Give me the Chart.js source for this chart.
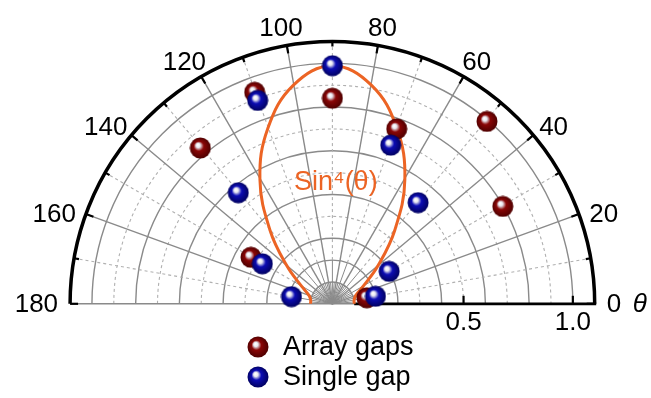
<!DOCTYPE html>
<html>
<head>
<meta charset="utf-8">
<script src="https://cdn.jsdelivr.net/npm/chart.js@4"></script>
<style>
  html, body { margin: 0; padding: 0; background: #fff; }
  #chart { display: block; }
</style>
</head>
<body>
<canvas id="chart" width="651" height="398"></canvas>
<script>
// ---- data (angle in degrees, radius) ----
const arrayTheta = [10, 30, 50, 70, 90, 110, 130, 150];
const arrayR = [0.06, 0.80, 1.00, 0.76, 0.85, 0.94, 0.84, 0.33];

const singleTheta = [10, 30, 50, 70, 90, 110, 130, 150, 170];
const singleR = [0.10, 0.20, 0.51, 0.68, 1.00, 0.90, 0.57, 0.27, 0.09];

// Sin^4(theta) guide curve, read every 10 degrees
const curveTheta = [0, 10, 20, 30, 40, 50, 60, 70, 80, 90, 100, 110, 120, 130, 140, 150, 160, 170, 180];
const curveR = [0, 0.001, 0.014, 0.063, 0.171, 0.344, 0.563, 0.763, 0.926, 1.0,
                0.926, 0.763, 0.563, 0.344, 0.171, 0.063, 0.014, 0.001, 0];

const angleTicks = [0, 20, 40, 60, 80, 100, 120, 140, 160, 180];
const radialTicks = [0.5, 1.0];
const solidCircles = [0, 0.1, 0.2, 0.4, 0.6, 0.8, 1.0];
const dashedCircles = [0.3, 0.5, 0.7, 0.9];

const R_MIN = -0.1, R_MAX = 1.1;
const ORANGE = "#ec6424";
const FONT = "'Liberation Sans', Arial, sans-serif";

// polar -> cartesian, radius measured from R_MIN
function toXY(r, deg) {
    const u = r - R_MIN, a = deg * Math.PI / 180;
    return { x: u * Math.cos(a), y: u * Math.sin(a) };
}

// shaded ball marker
function makeBall(base, dark) {
    const s = 22, c = document.createElement("canvas");
    c.width = s; c.height = s;
    const g = c.getContext("2d");
    const grad = g.createRadialGradient(s * 0.38, s * 0.36, 0.5, s / 2, s / 2, s / 2);
    grad.addColorStop(0, "#ffffff");
    grad.addColorStop(0.16, "#e8e8f0");
    grad.addColorStop(0.42, base);
    grad.addColorStop(1, dark);
    g.fillStyle = grad;
    g.beginPath();
    g.arc(s / 2, s / 2, s / 2 - 0.5, 0, Math.PI * 2);
    g.fill();
    return c;
}
const redBall = makeBall("#8a0606", "#4a0000");
const blueBall = makeBall("#0c0cb4", "#00005a");

const polarGrid = {
    id: "polarGrid",
    beforeDatasetsDraw(chart) {
        const { ctx, scales: { x, y } } = chart;
        const cx = x.getPixelForValue(0), cy = y.getPixelForValue(0);
        const k = x.getPixelForValue(1) - cx;
        const rad = r => (r - R_MIN) * k;
        const pt = (r, deg) => {
            const a = deg * Math.PI / 180;
            return [cx + rad(r) * Math.cos(a), cy - rad(r) * Math.sin(a)];
        };
        ctx.save();
        ctx.lineCap = "butt";

        // circles
        ctx.strokeStyle = "#8a8a8a";
        ctx.lineWidth = 1.4;
        solidCircles.forEach(r => {
            ctx.beginPath();
            ctx.arc(cx, cy, rad(r), Math.PI, 2 * Math.PI);
            ctx.stroke();
        });
        ctx.strokeStyle = "#b0b0b0";
        ctx.lineWidth = 1.1;
        ctx.setLineDash([3, 3]);
        dashedCircles.forEach(r => {
            ctx.beginPath();
            ctx.arc(cx, cy, rad(r), Math.PI, 2 * Math.PI);
            ctx.stroke();
        });

        // dashed spokes at odd tens
        for (let d = 10; d < 180; d += 20) {
            const p0 = pt(0.1, d), p1 = pt(R_MAX, d);
            ctx.beginPath();
            ctx.moveTo(p0[0], p0[1]);
            ctx.lineTo(p1[0], p1[1]);
            ctx.stroke();
        }
        ctx.setLineDash([]);

        // solid spokes
        ctx.strokeStyle = "#8a8a8a";
        ctx.lineWidth = 1.4;
        for (let d = 0; d <= 180; d += 20) {
            const p1 = pt(R_MAX, d);
            ctx.beginPath();
            ctx.moveTo(cx, cy);
            ctx.lineTo(p1[0], p1[1]);
            ctx.stroke();
        }
        // dense fan near the origin
        ctx.lineWidth = 1;
        for (let d = 5; d < 180; d += 5) {
            if (d % 20 === 0) continue;
            const p1 = pt(d % 10 === 0 ? 0.1 : 0, d);
            ctx.beginPath();
            ctx.moveTo(cx, cy);
            ctx.lineTo(p1[0], p1[1]);
            ctx.stroke();
        }

        // outer arc
        ctx.strokeStyle = "#000";
        ctx.lineWidth = 3.5;
        ctx.beginPath();
        ctx.arc(cx, cy, rad(R_MAX), Math.PI, 2 * Math.PI);
        ctx.stroke();

        // angular ticks
        ctx.lineWidth = 2.2;
        for (let d = 0; d <= 180; d += 10) {
            const len = d % 20 === 0 ? 8 : 5;
            const a = d * Math.PI / 180, R = rad(R_MAX);
            ctx.beginPath();
            ctx.moveTo(cx + R * Math.cos(a), cy - R * Math.sin(a));
            ctx.lineTo(cx + (R - len) * Math.cos(a), cy - (R - len) * Math.sin(a));
            ctx.stroke();
        }

        // radial axis along 0 deg
        ctx.lineWidth = 2.8;
        ctx.beginPath();
        ctx.moveTo(pt(0, 0)[0], cy);
        ctx.lineTo(pt(R_MAX, 0)[0] + 1.5, cy);
        ctx.stroke();
        ctx.lineWidth = 2.2;
        radialTicks.forEach(r => {
            const px = pt(r, 0)[0];
            ctx.beginPath();
            ctx.moveTo(px, cy);
            ctx.lineTo(px, cy - 8);
            ctx.stroke();
        });

        // angle labels, offset from the outer tick
        ctx.fillStyle = "#000";
        ctx.font = "26px " + FONT;
        ctx.textAlign = "center";
        ctx.textBaseline = "middle";
        angleTicks.forEach(d => {
            const txt = String(d);
            const w = ctx.measureText(txt).width;
            const a = d * Math.PI / 180, c = Math.cos(a), s = Math.sin(a);
            const t = pt(R_MAX, d);
            const dx = c * (12 + w / 2);
            const dy = -s * 28 + 9.6 * Math.min(1, 3 * s);
            ctx.fillText(txt, t[0] + dx, t[1] + dy + 1);
        });
        ctx.font = "italic 26px " + FONT;
        ctx.fillText("\u03b8", pt(R_MAX, 0)[0] + 45, cy + 1);
        ctx.font = "26px " + FONT;
        radialTicks.forEach(r => {
            ctx.fillText(r.toFixed(1), pt(r, 0)[0], cy + 19);
        });
        ctx.restore();
    },
    afterDatasetsDraw(chart) {
        const { ctx } = chart;
        ctx.save();
        ctx.fillStyle = ORANGE;
        ctx.font = "27px " + FONT;
        ctx.textAlign = "left";
        ctx.textBaseline = "alphabetic";
        ctx.fillText("Sin\u2074(\u03b8)", 294, 190);

        // legend
        ctx.drawImage(redBall, 247, 336);
        ctx.drawImage(blueBall, 247, 366);
        ctx.fillStyle = "#000";
        ctx.font = "27px " + FONT;
        ctx.fillText("Array gaps", 283, 355);
        ctx.fillText("Single gap", 283, 385);
        ctx.restore();
    }
};

const toPoints = (thetas, rs) => thetas.map((t, i) => toXY(rs[i], t));

new Chart(document.getElementById("chart"), {
    type: "scatter",
    data: {
        datasets: [
            {
                label: "Single gap",
                data: toPoints(singleTheta, singleR),
                pointStyle: blueBall,
                order: 0
            },
            {
                label: "Array gaps",
                data: toPoints(arrayTheta, arrayR),
                pointStyle: redBall,
                order: 1
            },
            {
                label: "Sin4",
                data: toPoints(curveTheta, curveR),
                showLine: true,
                borderColor: ORANGE,
                borderWidth: 3,
                pointRadius: 0,
                tension: 0.4,
                order: 2
            }
        ]
    },
    options: {
        responsive: false,
        animation: false,
        events: [],
        layout: { padding: 0 },
        plugins: { legend: { display: false }, tooltip: { enabled: false } },
        scales: {
            x: { type: "linear", display: false, min: -332.5 / 222, max: (651 - 332.5) / 222 },
            y: { type: "linear", display: false, min: -(398 - 306.5) / 222, max: 306.5 / 222 }
        }
    },
    plugins: [polarGrid]
});
</script>
</body>
</html>
